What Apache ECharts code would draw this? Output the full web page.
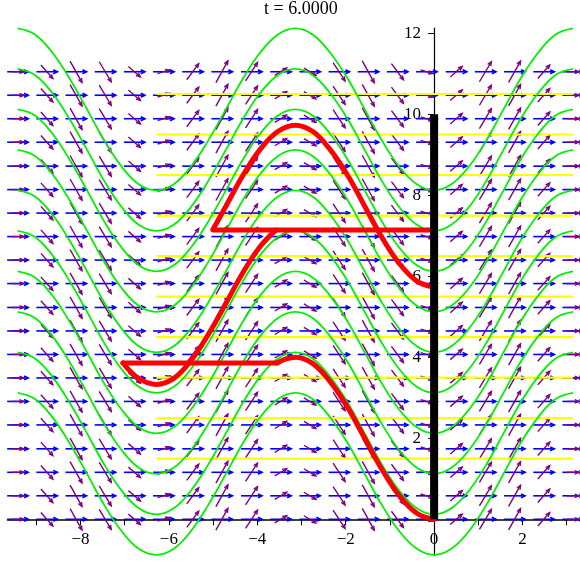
<!DOCTYPE html>
<html><head><meta charset="utf-8">
<script src="https://cdn.jsdelivr.net/npm/echarts@6/dist/echarts.min.js"></script>
<style>html,body{margin:0;padding:0;background:#fff}#chart{width:580px;height:563px}</style>
</head><body><div id="chart"></div>
<script>
// ---- data ----
const titleText = 't = 6.0000';
const xTickLabels = [-8, -6, -4, -2, 0, 2];
const xTicks = [-9, -8, -7, -6, -5, -4, -3, -2, -1, 0, 1, 2, 3];
const yTickLabels = [2, 4, 6, 8, 10, 12];

// direction-field grid (column x, row y)
const fieldX = [-9.42, -8.76, -8.10, -7.44, -6.78, -6.12, -5.46, -4.80, -4.13, -3.47,
                -2.81, -2.15, -1.49, -0.83, -0.17, 0.50, 1.16, 1.82, 2.48, 3.14];
const fieldY = [0, 0.58, 1.16, 1.74, 2.33, 2.91, 3.49, 4.07, 4.65, 5.23,
                5.82, 6.40, 6.98, 7.56, 8.14, 8.72, 9.31, 9.89, 10.47, 11.05];
// slope (dy per unit dx) of the purple field in each column
const purpleSlope = [0, -1.23, -1.94, -1.83, -0.95, 0.33, 1.47, 1.99, 1.67, 0.65,
                     -0.65, -1.67, -1.99, -1.47, -0.33, 0.95, 1.83, 1.94, 1.23, 0];

// green level curves: common profile + level of each curve
const greenX = [-9.42, -9.03, -8.64, -8.25, -7.85, -7.46, -7.07, -6.68, -6.28, -5.89, -5.50,
                -5.11, -4.71, -4.32, -3.93, -3.53, -3.14, -2.75, -2.36, -1.96, -1.57, -1.18,
                -0.79, -0.39, 0, 0.39, 0.79, 1.18, 1.57, 1.96, 2.36, 2.75, 3.14];
const greenProfile = [2, 1.85, 1.41, 0.77, 0, -0.77, -1.41, -1.85, -2, -1.85, -1.41,
                      -0.77, 0, 0.77, 1.41, 1.85, 2, 1.85, 1.41, 0.77, 0, -0.77,
                      -1.41, -1.85, -2, -1.85, -1.41, -0.77, 0, 0.77, 1.41, 1.85, 2];
const greenLevels = [1.12, 2.12, 3.12, 4.12, 5.12, 6.12, 7.12, 8.12, 9.12, 10.12];

// yellow horizontal lines
const yellowLevels = [1.5, 2.5, 3.5, 4.5, 5.5, 6.5, 7.5, 8.5, 9.5, 10.5];
const yellowXRange = [-6.28, 3.14];

// red path pieces
const redLowerArch = [[0, 0], [-0.39, 0.15], [-0.79, 0.59], [-1.18, 1.23], [-1.57, 2.0], [-1.96, 2.77],
                      [-2.36, 3.41], [-2.75, 3.85], [-3.14, 4.0], [-3.35, 3.96], [-3.55, 3.86]];
const redLowerFlat = [[-3.55, 3.86], [-7.04, 3.86]];
const redMiddle = [[-7.04, 3.86], [-6.68, 3.48], [-6.28, 3.33], [-5.89, 3.48], [-5.50, 3.92], [-5.11, 4.56],
                   [-4.71, 5.33], [-4.32, 6.10], [-3.93, 6.74], [-3.58, 7.14]];
const redUpperFlat = [[-5.0, 7.14], [0, 7.14]];
const redUpperArch = [[-5.0, 7.16], [-4.71, 7.73], [-4.32, 8.50], [-3.93, 9.14], [-3.53, 9.58], [-3.14, 9.73],
                      [-2.75, 9.58], [-2.36, 9.14], [-1.96, 8.50], [-1.57, 7.73], [-1.18, 6.96],
                      [-0.79, 6.32], [-0.39, 5.88], [0, 5.73]];
// black bar
const blackBar = [[0, 0], [0, 10]];

// ---- build ----
const FONT = 'Liberation Serif';
const X_MIN = -9.65, X_MAX = 3.30, Y_MIN = -0.9, Y_MAX = 12.13;
const GRID = { left: 7.5, right: 0, top: 28, bottom: 7.25 };
const W = 580, H = 563;
// offsets so that the axes sit at x = 0 and y = 0
const gridW = W - GRID.left - GRID.right, gridH = H - GRID.top - GRID.bottom;
const yAxisOffset = -((0 - X_MIN) / (X_MAX - X_MIN)) * gridW;
const xAxisOffset = -((0 - Y_MIN) / (Y_MAX - Y_MIN)) * gridH;

const blueData = [], purpleData = [];
fieldX.forEach((x, j) => {
  fieldY.forEach(y => {
    blueData.push([x, y, 1, 0]);
    purpleData.push([x, y, 1, purpleSlope[j]]);
  });
});

function arrowRenderer(color, width, scale, headLen, headAng) {
  return function (params, api) {
    const x = api.value(0), y = api.value(1), vx = api.value(2), vy = api.value(3);
    const hx = vx * scale / 2, hy = vy * scale / 2;
    const p0 = api.coord([x - hx, y - hy]);
    const p1 = api.coord([x + hx, y + hy]);
    const ang = Math.atan2(p1[1] - p0[1], p1[0] - p0[0]);
    const b1 = [p1[0] - headLen * Math.cos(ang - headAng), p1[1] - headLen * Math.sin(ang - headAng)];
    const b2 = [p1[0] - headLen * Math.cos(ang + headAng), p1[1] - headLen * Math.sin(ang + headAng)];
    return {
      type: 'group',
      children: [
        { type: 'line', shape: { x1: p0[0], y1: p0[1], x2: p1[0], y2: p1[1] },
          style: { stroke: color, lineWidth: width } },
        { type: 'polyline', shape: { points: [b1, p1, b2] },
          style: { stroke: color, lineWidth: width, fill: null } }
      ]
    };
  };
}

const series = [];
series.push({
  type: 'custom', name: 'blue', data: blueData, encode: { x: 0, y: 1 }, silent: true,
  renderItem: arrowRenderer('#0000ff', 1.6, 0.475, 4.5, 0.45)
});
series.push({
  type: 'custom', name: 'purple', data: purpleData, encode: { x: 0, y: 1 }, silent: true,
  renderItem: arrowRenderer('#800080', 1.4, 0.27, 4.5, 0.4)
});
yellowLevels.forEach(v => {
  series.push({
    type: 'line', data: [[yellowXRange[0], v], [yellowXRange[1], v]], symbol: 'none', silent: true,
    lineStyle: { color: '#ffff00', width: 2.2 }
  });
});
greenLevels.forEach(c => {
  series.push({
    type: 'line', data: greenX.map((x, i) => [x, greenProfile[i] + c]), symbol: 'none', smooth: 0.4,
    silent: true, lineStyle: { color: '#00f000', width: 1.8 }
  });
});
[[redLowerArch, 0.4], [redLowerFlat, 0], [redMiddle, 0.4], [redUpperFlat, 0], [redUpperArch, 0.4]].forEach(([d, s]) => {
  series.push({
    type: 'line', data: d, symbol: 'none', smooth: s, silent: true,
    lineStyle: { color: '#ff0000', width: 5, cap: 'round', join: 'round' }
  });
});
series.push({
  type: 'line', data: blackBar, symbol: 'none', silent: true,
  lineStyle: { color: '#000', width: 8, cap: 'butt' }
});

const chart = echarts.init(document.getElementById('chart'), null, { renderer: 'canvas', width: W, height: H });
chart.setOption({
  animation: false,
  backgroundColor: '#fff',
  title: {
    text: titleText, left: 264, top: 0, padding: 0,
    textStyle: { fontFamily: FONT, fontSize: 18, fontWeight: 'normal', color: '#000' }
  },
  grid: Object.assign({ containLabel: false, outerBoundsMode: 'none' }, GRID),
  xAxis: {
    type: 'value', min: X_MIN, max: X_MAX, position: 'bottom', offset: xAxisOffset,
    axisLine: { onZero: false, lineStyle: { color: '#000', width: 1.5 } },
    axisTick: { show: true, customValues: xTicks, length: 6, lineStyle: { color: '#000', width: 1 } },
    axisLabel: {
      customValues: xTickLabels, margin: 12, fontFamily: FONT, fontSize: 17, color: '#000',
      formatter: v => (v < 0 ? '\u2212' + Math.abs(v) : String(v))
    },
    splitLine: { show: false }
  },
  yAxis: {
    type: 'value', min: Y_MIN, max: Y_MAX, position: 'left', offset: yAxisOffset,
    axisLine: { onZero: false, lineStyle: { color: '#000', width: 1.2 } },
    axisTick: { show: true, customValues: yTickLabels, length: 6, lineStyle: { color: '#000', width: 1 } },
    axisLabel: { customValues: yTickLabels, margin: 13, fontFamily: FONT, fontSize: 17, color: '#000' },
    splitLine: { show: false }
  },
  series: series
});
</script></body></html>
